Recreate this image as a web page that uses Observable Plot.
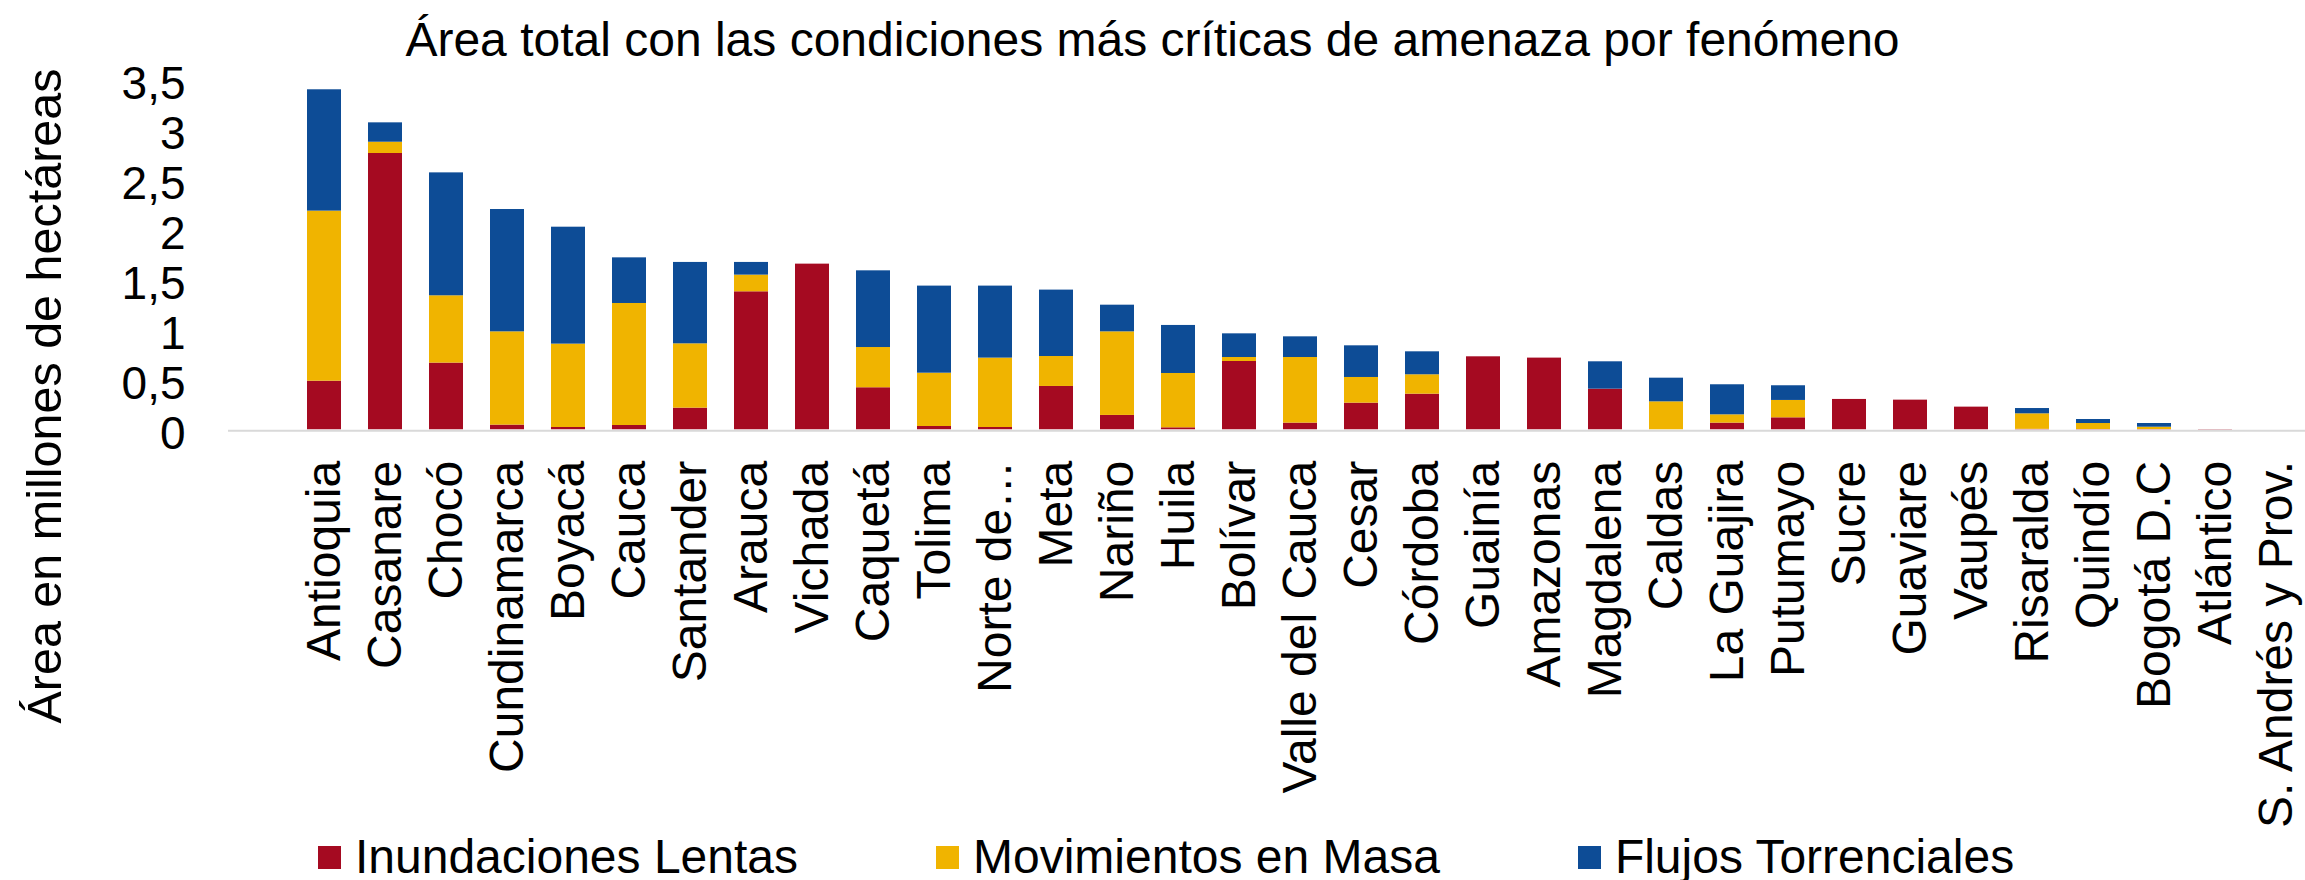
<!DOCTYPE html>
<html>
<head>
<meta charset="utf-8">
<script src="https://cdn.jsdelivr.net/npm/d3@7"></script>
<script src="https://cdn.jsdelivr.net/npm/@observablehq/plot@0.6"></script>
<style>
  html, body { margin: 0; padding: 0; background: #fff; overflow: hidden; }
  #wrap { position: relative; width: 2305px; height: 880px; font-family: "Liberation Sans", Arial, sans-serif; color: #000; }
  #chart { position: absolute; left: 0; top: 0; }
  #title { position: absolute; left: 0; top: 16px; width: 2305px; text-align: center; font-size: 48px; line-height: 48px; white-space: nowrap; }
  #ytitle { position: absolute; left: -305.6px; top: 372px; width: 700px; height: 48px; font-size: 48.5px; line-height: 48px; text-align: center; white-space: nowrap; transform: rotate(-90deg); }
  #legend { position: absolute; left: 318px; top: 833px; height: 48px; display: flex; align-items: center; font-size: 48px; line-height: 48px; white-space: nowrap; }
  .item { display: flex; align-items: center; margin-right: 138px; }
  .sw { width: 23px; height: 23px; margin-right: 14px; }
</style>
</head>
<body>
<div id="wrap">
  <div id="chart"></div>
  <div id="title"></div>
  <div id="ytitle"></div>
  <div id="legend"></div>
</div>
<script>
const titulo = "Área total con las condiciones más críticas de amenaza por fenómeno";
const tituloY = "Área en millones de hectáreas";

const departamentos = ["Antioquia","Casanare","Chocó","Cundinamarca","Boyacá","Cauca","Santander","Arauca","Vichada","Caquetá","Tolima","Norte de…","Meta","Nariño","Huila","Bolívar","Valle del Cauca","Cesar","Córdoba","Guainía","Amazonas","Magdalena","Caldas","La Guajira","Putumayo","Sucre","Guaviare","Vaupés","Risaralda","Quindío","Bogotá D.C","Atlántico","S. Andrés y Prov."];

const fenomenos = ["Inundaciones Lentas","Movimientos en Masa","Flujos Torrenciales"];
const colores = ["#A50A21","#F0B400","#0D4C96"];

const inundacionesLentas = [0.487,2.767,0.668,0.047,0.023,0.043,0.217,1.382,1.659,0.421,0.033,0.023,0.434,0.144,0.020,0.684,0.067,0.267,0.357,0.731,0.718,0.407,0.000,0.067,0.120,0.304,0.297,0.227,0.005,0.003,0.003,0.003,0.000];
const movimientosEnMasa = [1.703,0.113,0.674,0.934,0.835,1.222,0.644,0.167,0.000,0.403,0.534,0.695,0.300,0.837,0.544,0.040,0.657,0.257,0.194,0.000,0.000,0.000,0.280,0.083,0.174,0.000,0.000,0.000,0.155,0.060,0.023,0.000,0.000];
const flujosTorrenciales = [1.215,0.194,1.231,1.225,1.171,0.457,0.815,0.127,0.000,0.768,0.872,0.721,0.665,0.267,0.481,0.237,0.207,0.317,0.230,0.000,0.000,0.274,0.237,0.301,0.147,0.000,0.000,0.000,0.053,0.040,0.037,0.000,0.000];

const yTicks = [0,0.5,1,1.5,2,2.5,3,3.5];

const valores = [inundacionesLentas, movimientosEnMasa, flujosTorrenciales];
const data = departamentos.flatMap((d, i) => fenomenos.map((f, j) => ({departamento: d, fenomeno: f, valor: valores[j][i]})));

const chart = Plot.plot({
  width: 2305,
  height: 880,
  marginLeft: 228,
  marginRight: 0,
  marginTop: 79.8,
  marginBottom: 450.7,
  style: {fontFamily: "'Liberation Sans', Arial, sans-serif", color: "#000", background: "transparent", overflow: "visible"},
  x: {domain: departamentos, range: [289.7, 2310.3], paddingInner: 0.445, paddingOuter: 0.2225, align: 0.5},
  y: {domain: [0, 3.5]},
  color: {domain: fenomenos, range: colores},
  marks: [
    Plot.barY(data, Plot.stackY({x: "departamento", y: "valor", fill: "fenomeno"})),
    Plot.ruleY([0], {stroke: "#d9d9d9", strokeWidth: 2, dy: 1}),
    Plot.axisY({ticks: yTicks, tickSize: 0, tickPadding: 43, fontSize: 46, dy: 4, label: null,
      tickFormat: d => String(d).replace(".", ",")}),
    Plot.axisX({tickRotate: -90, tickSize: 0, tickPadding: 31, fontSize: 48, label: null})
  ]
});
document.getElementById("chart").appendChild(chart);

document.getElementById("title").textContent = titulo;
document.getElementById("ytitle").textContent = tituloY;
const leg = document.getElementById("legend");
fenomenos.forEach((f, i) => {
  const it = document.createElement("div");
  it.className = "item";
  const sw = document.createElement("div");
  sw.className = "sw";
  sw.style.background = colores[i];
  const tx = document.createElement("span");
  tx.textContent = f;
  it.appendChild(sw); it.appendChild(tx);
  leg.appendChild(it);
});
</script>
</body>
</html>
